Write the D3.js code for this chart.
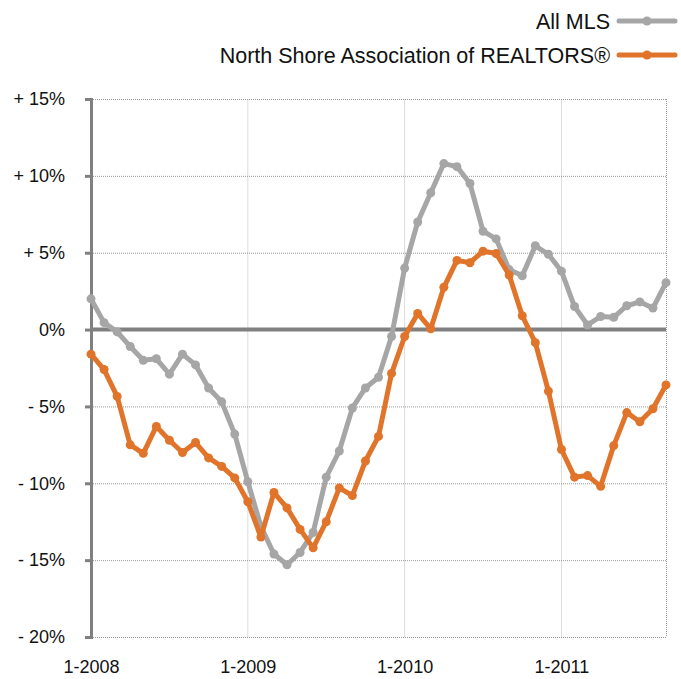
<!DOCTYPE html>
<html>
<head>
<meta charset="utf-8">
<script src="https://cdn.jsdelivr.net/npm/d3@7"></script>
<style>
  body { margin: 0; background: #fff; }
  svg { font-family: "Liberation Sans", Arial, sans-serif; }
</style>
</head>
<body>
<div id="chart"></div>
<script>
let width = 681, height = 679;

// monthly, 1-2008 .. 9-2011
const allMLS = [2.0, 0.45, -0.15, -1.1, -2.0, -1.9, -2.9, -1.6, -2.3, -3.8, -4.7, -6.8,
  -9.9, -12.8, -14.6, -15.3, -14.5, -13.2, -9.6, -7.9, -5.1, -3.8, -3.1, -0.45,
  4.0, 7.0, 8.9, 10.8, 10.6, 9.5, 6.4, 5.9, 3.9, 3.5, 5.45, 4.9,
  3.8, 1.5, 0.3, 0.85, 0.8, 1.55, 1.8, 1.4, 3.05];
const northShore = [-1.6, -2.6, -4.35, -7.5, -8.05, -6.3, -7.2, -8.0, -7.35, -8.35, -8.9, -9.65,
  -11.2, -13.5, -10.6, -11.6, -13.0, -14.2, -12.5, -10.3, -10.8, -8.55, -6.95, -2.85,
  -0.45, 1.05, 0.05, 2.75, 4.5, 4.35, 5.1, 4.95, 3.55, 0.9, -0.85, -4.0,
  -7.8, -9.6, -9.5, -10.2, -7.55, -5.4, -6.0, -5.15, -3.6];
const seriesNames = ['All MLS', 'North Shore Association of REALTORS®'];
const seriesColors = ['#a6a6a6', '#e0742a'];
const yTicks = [15, 10, 5, 0, -5, -10, -15, -20];
const yTickLabels = ['+ 15%', '+ 10%', '+ 5%', '0%', '- 5%', '- 10%', '- 15%', '- 20%'];
const xTicks = [0, 12, 24, 36];
const xTickLabels = ['1-2008', '1-2009', '1-2010', '1-2011'];

const x = d3.scaleLinear().domain([0, 44]).range([91, 666]);
const y = d3.scaleLinear().domain([-20, 15]).range([637, 99]);

const svg = d3.select('#chart').append('svg')
  .attr('width', width)
  .attr('height', height);

// vertical grid at year starts
svg.append('g').selectAll('line')
  .data(xTicks.slice(1))
  .join('line')
    .attr('x1', d => x(d)).attr('x2', d => x(d))
    .attr('y1', y(15)).attr('y2', y(-20))
    .attr('stroke', '#dcdcdc')
    .attr('stroke-width', 1);

// right edge dotted
svg.append('line')
  .attr('x1', x(44) + 0.5).attr('x2', x(44) + 0.5)
  .attr('y1', y(15)).attr('y2', y(-20))
  .attr('stroke', '#999')
  .attr('stroke-dasharray', '1,1');

// horizontal dotted grid
svg.append('g').selectAll('line')
  .data(yTicks.filter(d => d !== 0))
  .join('line')
    .attr('x1', x(0)).attr('x2', x(44))
    .attr('y1', d => y(d) + 0.5).attr('y2', d => y(d) + 0.5)
    .attr('stroke', '#999')
    .attr('stroke-dasharray', '1,1');

// y axis
const yAxis = d3.axisLeft(y)
  .tickValues(yTicks)
  .tickSize(6)
  .tickPadding(20)
  .tickFormat((d, i) => yTickLabels[i]);

svg.append('g')
  .attr('transform', `translate(${x(0)},0)`)
  .call(yAxis)
  .call(g => g.select('.domain').attr('stroke', '#808080').attr('stroke-width', 3))
  .call(g => g.selectAll('.tick line').attr('stroke', '#808080').attr('stroke-width', 3))
  .call(g => g.selectAll('.tick text').attr('font-size', 18).attr('fill', '#111')
    .attr('font-family', '"Liberation Sans", Arial, sans-serif'));

// x labels
const xAxis = d3.axisBottom(x)
  .tickValues(xTicks)
  .tickSize(0)
  .tickPadding(23)
  .tickFormat((d, i) => xTickLabels[i]);

svg.append('g')
  .attr('transform', `translate(0,${y(-20)})`)
  .call(xAxis)
  .call(g => g.select('.domain').remove())
  .call(g => g.selectAll('.tick text').attr('font-size', 18).attr('fill', '#111')
    .attr('font-family', '"Liberation Sans", Arial, sans-serif'));

// zero line
svg.append('line')
  .attr('x1', x(0)).attr('x2', x(44))
  .attr('y1', y(0)).attr('y2', y(0))
  .attr('stroke', '#808080')
  .attr('stroke-width', 4);

// series
const line = d3.line()
  .x((d, i) => x(i))
  .y(d => y(d));

[allMLS, northShore].forEach((vals, k) => {
  const g = svg.append('g');
  g.append('path')
    .datum(vals)
    .attr('fill', 'none')
    .attr('stroke', seriesColors[k])
    .attr('stroke-width', 5)
    .attr('stroke-linejoin', 'round')
    .attr('d', line);
  g.selectAll('circle')
    .data(vals)
    .join('circle')
      .attr('cx', (d, i) => x(i))
      .attr('cy', d => y(d))
      .attr('r', 4.5)
      .attr('fill', seriesColors[k]);
});

// legend
const legend = svg.append('g').selectAll('g')
  .data(seriesNames)
  .join('g')
    .attr('transform', (d, i) => `translate(0,${21 + i * 34})`);

legend.append('text')
  .attr('x', 610)
  .attr('y', 7.5)
  .attr('text-anchor', 'end')
  .attr('font-size', 21.5)
  .attr('fill', '#111')
  .text(d => d);

legend.append('line')
  .attr('x1', 619).attr('x2', 675)
  .attr('y1', 0).attr('y2', 0)
  .attr('stroke', (d, i) => seriesColors[i])
  .attr('stroke-width', 5)
  .attr('stroke-linecap', 'round');

legend.append('circle')
  .attr('cx', 647).attr('cy', 0)
  .attr('r', 4.5)
  .attr('fill', (d, i) => seriesColors[i]);
</script>
</body>
</html>
